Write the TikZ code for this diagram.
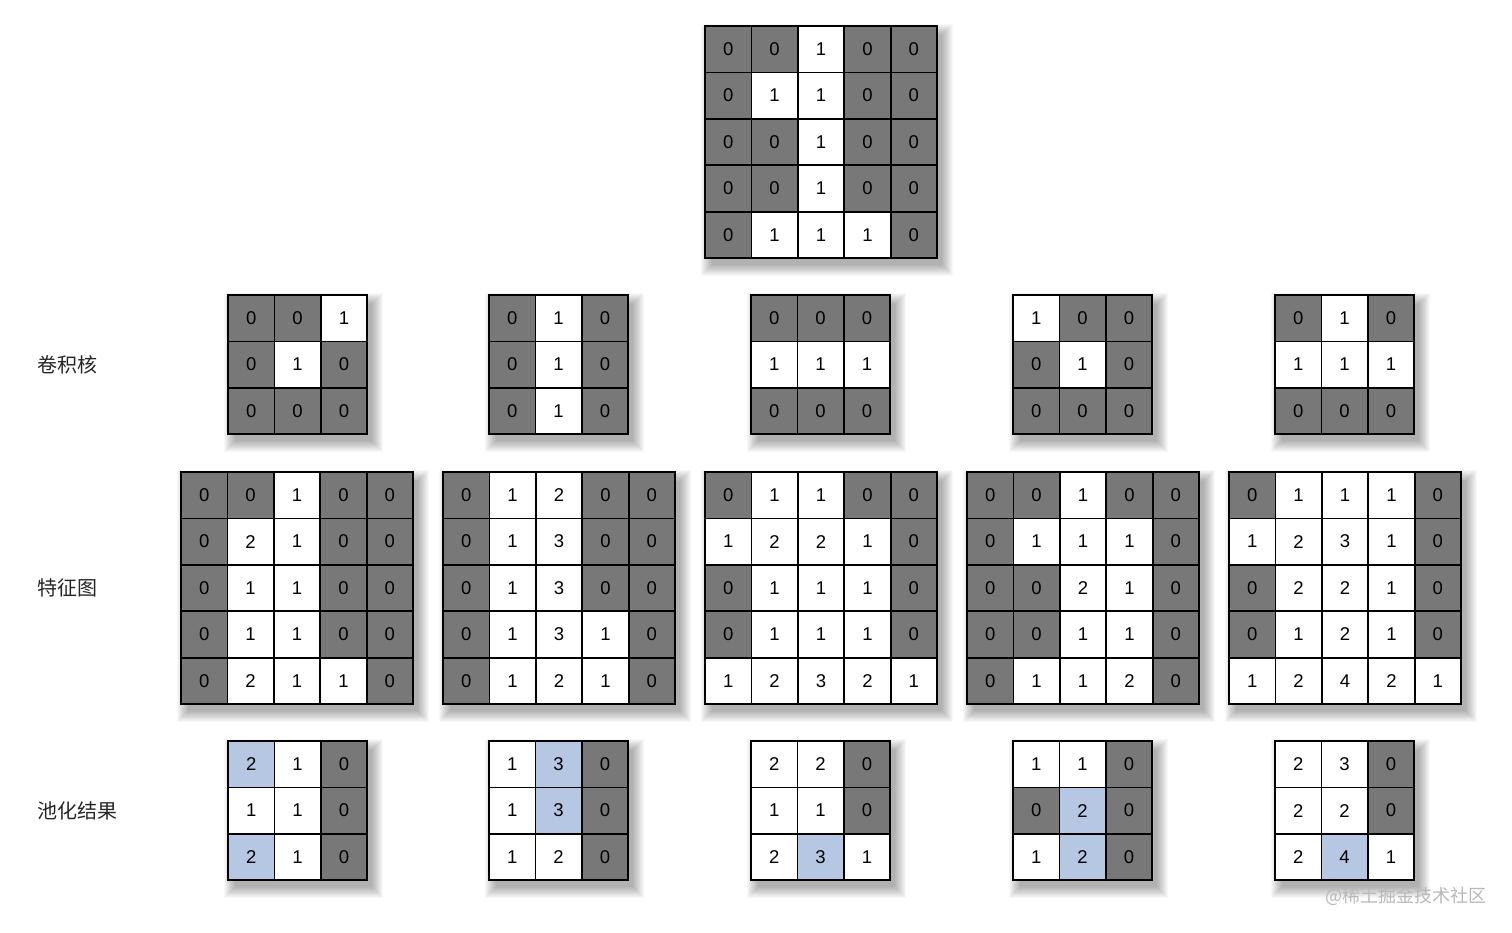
\documentclass[tikz,border=0pt]{standalone}
\usepackage{fontspec}
\setmainfont{Liberation Sans}
\newfontfamily\cjk{Noto Sans CJK SC}
\definecolor{gd}{RGB}{120,120,120}
\definecolor{bu}{RGB}{181,199,227}
\definecolor{wmc}{RGB}{185,185,185}
\tikzset{
  cell/.style={draw=black, line width=1.8pt, minimum size=46.4pt, inner sep=0pt,
    font=\fontsize{18.5}{18.5}\selectfont, text=black},
  cD/.style={fill=gd},
  cW/.style={fill=white},
  cB/.style={fill=bu},
  lab/.style={anchor=west, inner sep=0pt, font=\cjk\fontsize{20}{20}\selectfont, text=black!85},
  shd/.style={fill=black, opacity=0.026}
}
\newcommand\mkgrid[5]{%
  \foreach \i in {0,...,11}{
    \fill[shd] ({#2+7-\i},{#3+9-\i}) rectangle ({#2+#4*46.4+5+\i},{#3+#4*46.4+7+\i});
  }
  \foreach \row [count=\r] in {#5} {
    \foreach \v/\c [count=\k] in \row {
      \node[cell,\c] (#1-\r-\k) at ({#2+(\k-0.5)*46.4},{#3+(\r-0.5)*46.4}) {\v};
    }
  }
}
\begin{document}
\begin{tikzpicture}[x=1pt,y=-1pt]
\fill[white] (0,0) rectangle (1512,932);
\useasboundingbox (0,0) rectangle (1512,932);
% input
\mkgrid{in}{705}{26}{5}{{0/cD,0/cD,1/cW,0/cD,0/cD},{0/cD,1/cW,1/cW,0/cD,0/cD},{0/cD,0/cD,1/cW,0/cD,0/cD},{0/cD,0/cD,1/cW,0/cD,0/cD},{0/cD,1/cW,1/cW,1/cW,0/cD}}
% kernels
\mkgrid{k1}{228}{295}{3}{{0/cD,0/cD,1/cW},{0/cD,1/cW,0/cD},{0/cD,0/cD,0/cD}}
\mkgrid{k2}{489}{295}{3}{{0/cD,1/cW,0/cD},{0/cD,1/cW,0/cD},{0/cD,1/cW,0/cD}}
\mkgrid{k3}{751}{295}{3}{{0/cD,0/cD,0/cD},{1/cW,1/cW,1/cW},{0/cD,0/cD,0/cD}}
\mkgrid{k4}{1013}{295}{3}{{1/cW,0/cD,0/cD},{0/cD,1/cW,0/cD},{0/cD,0/cD,0/cD}}
\mkgrid{k5}{1275}{295}{3}{{0/cD,1/cW,0/cD},{1/cW,1/cW,1/cW},{0/cD,0/cD,0/cD}}
% feature maps
\mkgrid{f1}{181}{472}{5}{{0/cD,0/cD,1/cW,0/cD,0/cD},{0/cD,2/cW,1/cW,0/cD,0/cD},{0/cD,1/cW,1/cW,0/cD,0/cD},{0/cD,1/cW,1/cW,0/cD,0/cD},{0/cD,2/cW,1/cW,1/cW,0/cD}}
\mkgrid{f2}{443}{472}{5}{{0/cD,1/cW,2/cW,0/cD,0/cD},{0/cD,1/cW,3/cW,0/cD,0/cD},{0/cD,1/cW,3/cW,0/cD,0/cD},{0/cD,1/cW,3/cW,1/cW,0/cD},{0/cD,1/cW,2/cW,1/cW,0/cD}}
\mkgrid{f3}{705}{472}{5}{{0/cD,1/cW,1/cW,0/cD,0/cD},{1/cW,2/cW,2/cW,1/cW,0/cD},{0/cD,1/cW,1/cW,1/cW,0/cD},{0/cD,1/cW,1/cW,1/cW,0/cD},{1/cW,2/cW,3/cW,2/cW,1/cW}}
\mkgrid{f4}{967}{472}{5}{{0/cD,0/cD,1/cW,0/cD,0/cD},{0/cD,1/cW,1/cW,1/cW,0/cD},{0/cD,0/cD,2/cW,1/cW,0/cD},{0/cD,0/cD,1/cW,1/cW,0/cD},{0/cD,1/cW,1/cW,2/cW,0/cD}}
\mkgrid{f5}{1229}{472}{5}{{0/cD,1/cW,1/cW,1/cW,0/cD},{1/cW,2/cW,3/cW,1/cW,0/cD},{0/cD,2/cW,2/cW,1/cW,0/cD},{0/cD,1/cW,2/cW,1/cW,0/cD},{1/cW,2/cW,4/cW,2/cW,1/cW}}
% pooling results
\mkgrid{p1}{228}{741}{3}{{2/cB,1/cW,0/cD},{1/cW,1/cW,0/cD},{2/cB,1/cW,0/cD}}
\mkgrid{p2}{489}{741}{3}{{1/cW,3/cB,0/cD},{1/cW,3/cB,0/cD},{1/cW,2/cW,0/cD}}
\mkgrid{p3}{751}{741}{3}{{2/cW,2/cW,0/cD},{1/cW,1/cW,0/cD},{2/cW,3/cB,1/cW}}
\mkgrid{p4}{1013}{741}{3}{{1/cW,1/cW,0/cD},{0/cD,2/cB,0/cD},{1/cW,2/cB,0/cD}}
\mkgrid{p5}{1275}{741}{3}{{2/cW,3/cW,0/cD},{2/cW,2/cW,0/cD},{2/cW,4/cB,1/cW}}
% labels
\node[lab] (lk) at (37,365) {卷积核};
\node[lab] (lf) at (37,588) {特征图};
\node[lab] (lp) at (37,811) {池化结果};
\node[anchor=west, inner sep=0pt, text=wmc, font=\cjk\fontsize{18}{18}\selectfont] (wm) at (1325,896) {@稀土掘金技术社区};
\end{tikzpicture}
\end{document}
